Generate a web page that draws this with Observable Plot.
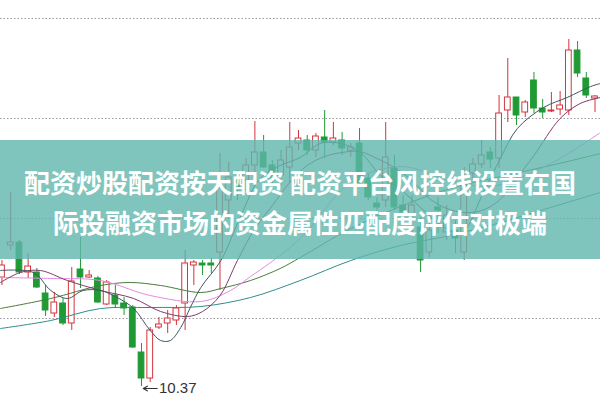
<!DOCTYPE html>
<html><head><meta charset="utf-8">
<script src="https://cdn.jsdelivr.net/npm/d3@7"></script>
<script src="https://cdn.jsdelivr.net/npm/@observablehq/plot@0.6"></script>
<style>
html,body{margin:0;padding:0;background:#fff;}
#wrap{position:relative;width:600px;height:401px;overflow:hidden;}
#band{position:absolute;left:0;top:140px;width:600px;height:119px;background:rgba(95,183,172,0.8);}
#title{position:absolute;left:0;top:162px;width:600px;text-align:center;color:#fff;font-family:"Noto Sans CJK SC","Noto Sans",sans-serif;font-weight:700;font-size:26px;line-height:40px;white-space:nowrap;}
</style></head><body>
<div id="wrap"><div id="chart"></div><div id="band"></div>
<div id="title"><div id="t1"></div><div id="t2"></div></div></div>
<script>
const titleLines = ["配资炒股配资按天配资 配资平台风控线设置在国", "际投融资市场的资金属性匹配度评估对极端"];
const opens = [11.46,11.78,11.81,11.51,11.51,11.30,11.10,11.20,11.00,11.54,11.46,11.45,11.19,11.28,11.20,11.16,10.71,10.45,10.96,11.00,11.03,11.20,11.58,11.60,11.60,11.71,12.23,12.43,12.43,12.58,12.71,12.58,12.48,12.56,12.80,12.83,12.73,12.86,12.81,12.83,12.73,12.80,12.45,12.20,12.23,12.55,12.18,12.08,11.96,11.71,12.16,11.91,11.93,11.71,12.50,12.59,12.71,12.65,13.13,13.26,13.11,13.43,13.15,13.12,13.14,13.13,13.73,13.45,13.25];
const closes = [11.58,11.81,11.51,11.57,11.36,11.13,11.21,11.00,11.42,11.46,11.48,11.21,11.41,11.19,11.15,10.76,10.45,10.93,10.99,11.05,11.15,11.60,11.61,11.58,11.58,12.35,12.46,12.33,12.58,12.71,12.56,12.45,12.63,12.76,12.85,12.73,12.87,12.81,12.85,12.75,12.76,12.37,12.26,12.16,12.66,12.16,12.11,12.18,11.63,11.93,12.13,12.08,11.85,12.40,12.59,12.68,12.64,13.10,13.26,13.08,13.21,13.15,13.11,13.13,13.18,13.73,13.50,13.28,13.27];
const highs = [11.63,12.31,11.83,11.70,11.55,11.38,11.31,11.25,11.56,11.86,11.53,11.47,11.43,11.38,11.26,11.18,10.80,10.96,11.06,11.13,11.18,11.73,11.63,11.63,11.65,12.70,12.61,12.53,12.65,13.02,12.88,12.63,12.73,13.01,12.93,12.88,12.90,13.13,13.01,12.91,12.80,12.95,12.50,12.26,13.01,12.68,12.28,12.28,12.06,12.03,12.26,12.18,12.03,12.56,12.65,12.83,12.76,13.28,13.65,13.26,13.23,13.51,13.24,13.31,13.32,13.84,13.82,13.51,13.28];
const lows = [11.38,11.73,11.49,11.45,11.35,11.07,11.06,10.98,10.93,11.35,11.45,11.20,11.18,11.15,11.08,10.75,10.37,10.41,10.94,10.90,10.98,10.93,11.38,11.48,11.50,11.33,12.08,12.23,12.33,12.51,12.55,12.38,12.38,12.40,12.73,12.68,12.66,12.65,12.78,12.68,12.66,12.36,12.23,11.88,12.16,12.13,11.98,11.88,11.51,11.66,11.90,11.83,11.70,11.63,12.43,12.55,12.55,12.55,13.01,12.98,13.06,13.10,13.05,13.11,13.08,13.08,13.46,13.25,13.11];
// moving averages: [candle position, price]
const ma5 = [[-0.17,11.53],[3.6,11.51],[5.6,11.33],[7.5,11.25],[9.3,11.33],[11.3,11.33],[13.2,11.26],[15.1,11.15],[17,10.93],[18.2,10.83],[19.3,10.83],[20.5,10.96],[21.6,11.16],[22.8,11.36],[25.1,11.63],[27.4,12.08],[29.6,12.45],[31.9,12.58],[34.2,12.66],[36.5,12.80],[38.8,12.80],[41.1,12.71],[43.4,12.48],[45.7,12.34],[48,12.16],[50.3,11.99],[52.6,11.90],[55.2,12.31],[57.2,12.66],[59.1,12.95],[62.1,13.16],[64.8,13.26],[67.5,13.37],[68.63,13.40]];
const ma10 = [[-0.17,11.41],[2.1,11.51],[4.4,11.53],[7.5,11.43],[11.3,11.33],[15.1,11.25],[18.2,11.12],[21.3,11.07],[23,11.12],[25,11.28],[27,11.63],[29,11.95],[31,12.18],[33,12.41],[35,12.58],[37,12.67],[39,12.71],[41,12.72],[43,12.65],[45,12.56],[47,12.43],[49,12.25],[51,12.15],[53,12.11],[55,12.13],[57,12.23],[59,12.45],[61,12.68],[64,13.05],[66.3,13.20],[68.63,13.26]];
const ma20 = [[-0.17,11.46],[5.6,11.45],[11.3,11.43],[17,11.28],[22.8,11.22],[26.2,11.33],[28.5,11.47],[30.8,11.61],[34.2,11.85],[40,12.41],[45.7,12.57],[51.4,12.43],[56,12.37],[60.3,12.49],[64,12.65],[68.63,12.91]];
const ma30 = [[-0.17,11.15],[5.6,11.25],[11.3,11.38],[14.7,11.41],[18.2,11.38],[22.8,11.31],[25.1,11.35],[28.5,11.43],[31.9,11.55],[34.2,11.66],[40,11.95],[45.7,12.17],[51.4,12.35],[57.2,12.47],[62.9,12.58],[68.63,12.70]];
const ma60 = [[-0.17,10.95],[5.6,11.03],[11.3,11.15],[17,11.16],[22.8,11.17],[28.5,11.26],[34.2,11.43],[40,11.63],[45.7,11.78],[51.4,11.88],[57.2,12.01],[62.9,12.16],[68.63,12.31]];
const gridLevels = [11.05, 12.05, 13.05, 14.05];

const RED = "#d4343c", GREEN = "#1f9a34";
const candles = opens.map((o, i) => ({i, open: o, close: closes[i], high: highs[i], low: lows[i], up: closes[i] >= o}));
const lowIdx = d3.minIndex(lows);
const lowPoint = [{i: lowIdx, low: lows[lowIdx]}];

document.getElementById("t1").textContent = titleLines[0];
document.getElementById("t2").textContent = titleLines[1];

const maLine = (data, color) => Plot.line(data, {x: d => d[0], y: d => d[1], stroke: color, strokeWidth: 1, curve: "catmull-rom"});

const chart = Plot.plot({
  width: 600, height: 401, margin: 0,
  x: {type: "linear", domain: [-0.17, 68.63], axis: null},
  y: {domain: [10.22, 14.23], axis: null},
  style: {background: "#fff"},
  marks: [
    Plot.ruleY(gridLevels, {stroke: "#9a9a9a", strokeWidth: 1, strokeDasharray: "1.5,2"}),
    Plot.ruleX(candles, {x: "i", y1: "low", y2: "high", stroke: d => d.up ? RED : GREEN, strokeWidth: 1}),
    Plot.rect(candles, {x1: d => d.i - 0.33, x2: d => d.i + 0.33, y1: d => Math.min(d.open, d.close), y2: d => Math.max(d.open, d.close), fill: d => d.up ? "#fff" : GREEN, stroke: d => d.up ? RED : GREEN, strokeWidth: 1}),
    maLine(ma60, "#2f8e8c"),
    maLine(ma30, "#4c7a3c"),
    maLine(ma20, "#e48be0"),
    maLine(ma10, "#7e3c68"),
    maLine(ma5, "#40575f"),
    Plot.arrow(lowPoint, {x1: d => d.i + 1.8, x2: d => d.i + 0.2, y1: "low", y2: "low", dy: 2, stroke: "#333", strokeWidth: 1.2, headLength: 6, bend: 0}),
    Plot.text(lowPoint, {x: d => d.i + 2.0, y: "low", dy: 2, text: d => d3.format(".2f")(d.low), textAnchor: "start", fill: "#333", fontSize: 15, fontFamily: "Liberation Sans, Arial, sans-serif"})
  ]
});
document.getElementById("chart").appendChild(chart);
</script>
</body></html>
